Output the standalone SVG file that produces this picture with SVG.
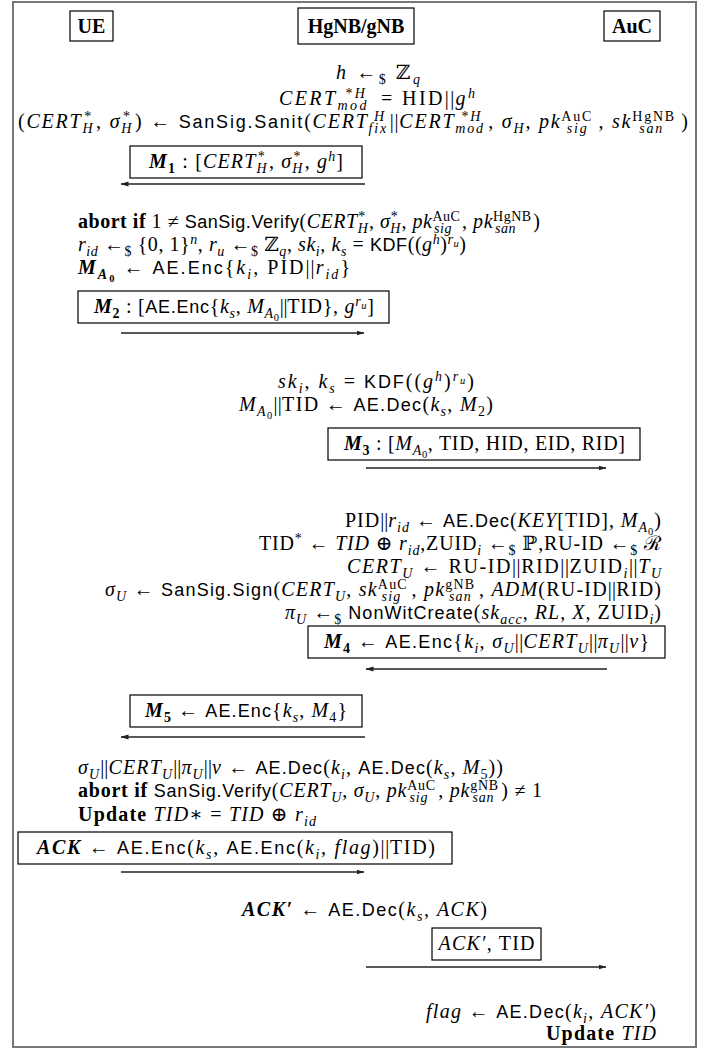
<svg xmlns="http://www.w3.org/2000/svg" width="709" height="1055" viewBox="0 0 709 1055">
<defs>
<style>
text{font-family:"Liberation Serif","DejaVu Serif",serif;font-size:20px;fill:#000}
.i{font-style:italic}
.n{font-style:normal}
.b{font-weight:bold}
.f{font-family:"Liberation Sans","DejaVu Sans",sans-serif;font-size:18px;font-style:normal;font-weight:normal}
.s{font-size:14px}
.ss{font-size:10.5px}
.d{baseline-shift:-4.5px}
.u{baseline-shift:7.5px}
.dd{baseline-shift:-3px}
.pp{font-style:normal;font-weight:normal;letter-spacing:-1px}
.hd{font-size:20px;font-weight:bold;text-anchor:middle}
.m{text-anchor:middle}
.e{text-anchor:end}
.bx{fill:none;stroke:#000;stroke-width:1.2}
.ar{fill:none;stroke:#222;stroke-width:1.3;marker-end:url(#ah)}
</style>
<marker id="ah" viewBox="0 0 8 6" refX="7.5" refY="3" markerWidth="8" markerHeight="6" markerUnits="userSpaceOnUse" orient="auto"><path d="M0,0.5 L8,3 L0,5.5 z" fill="#222"/></marker>
</defs>
<rect x="0" y="0" width="709" height="1055" fill="#fff"/>
<rect id="frame" x="13" y="2" width="683" height="1045" fill="none" stroke="#777" stroke-width="2"/>

<g id="ue"><rect class="bx" x="70" y="11" width="43" height="30"/><text class="hd" x="91.5" y="33">UE</text></g>
<g id="hgnb"><rect class="bx" x="298" y="8" width="116" height="36"/><text class="hd" x="356" y="33">HgNB/gNB</text></g>
<g id="auc"><rect class="bx" x="604" y="11" width="56" height="30"/><text class="hd" x="632" y="33">AuC</text></g>

<g id="step-hgnb-sanit">
<text class="m" x="378" y="79" textLength="84"><tspan class="i">h</tspan> ←<tspan class="s d">$</tspan> ℤ<tspan class="s i d">q</tspan></text>
<text class="m" x="377" y="105" textLength="196"><tspan class="i">CERT</tspan><tspan class="s i d">mod</tspan><tspan class="s u" dx="-23.3">*<tspan class="i">H</tspan></tspan><tspan dx="6.2"> = HID</tspan><tspan class="pp">||</tspan><tspan class="i">g</tspan><tspan class="s i u">h</tspan></text>
<text x="18" y="128" textLength="670">(<tspan class="i">CERT</tspan><tspan class="s i d">H</tspan><tspan class="s u" dx="-10.1">*</tspan><tspan dx="3.1">, </tspan><tspan class="i">σ</tspan><tspan class="s i d">H</tspan><tspan class="s u" dx="-10.1">*</tspan><tspan dx="3.1">) ← </tspan><tspan class="f">SanSig.Sanit</tspan>(<tspan class="i">CERT</tspan><tspan class="s i d">fix</tspan><tspan class="s i u" dx="-14">H</tspan><tspan class="pp" dx="3.9">||</tspan><tspan class="i">CERT</tspan><tspan class="s i d">mod</tspan><tspan class="s u" dx="-23.3">*<tspan class="i">H</tspan></tspan><tspan dx="6.2">, </tspan><tspan class="i">σ</tspan><tspan class="s i d">H</tspan>, <tspan class="i">pk</tspan><tspan class="s u">AuC</tspan><tspan class="s i d" dx="-26.4">sig</tspan><tspan dx="10.1">, </tspan><tspan class="i">sk</tspan><tspan class="s u">HgNB</tspan><tspan class="s i d" dx="-36.6">san</tspan><tspan dx="17.2">)</tspan></text>
</g>

<g id="msg-m1">
<rect class="bx" x="130" y="146" width="232" height="32"/>
<text class="m" x="246" y="168" textLength="194"><tspan class="b i">M</tspan><tspan class="s b d">1</tspan> : [<tspan class="i">CERT</tspan><tspan class="s i d">H</tspan><tspan class="s u" dx="-10.1">*</tspan><tspan dx="3.1">, </tspan><tspan class="i">σ</tspan><tspan class="s i d">H</tspan><tspan class="s u" dx="-10.1">*</tspan><tspan dx="3.1">, </tspan><tspan class="i">g</tspan><tspan class="s i u">h</tspan>]</text>
</g>

<g id="step-ue-verify">
<text x="78" y="228" textLength="462"><tspan class="b">abort if</tspan> 1 ≠ <tspan class="f">SanSig.Verify</tspan>(<tspan class="i">CERT</tspan><tspan class="s i d">H</tspan><tspan class="s u" dx="-10.1">*</tspan><tspan dx="3.1">, </tspan><tspan class="i">σ</tspan><tspan class="s i d">H</tspan><tspan class="s u" dx="-10.1">*</tspan><tspan dx="3.1">, </tspan><tspan class="i">pk</tspan><tspan class="s u">AuC</tspan><tspan class="s i d" dx="-26.4">sig</tspan><tspan dx="10.1">, </tspan><tspan class="i">pk</tspan><tspan class="s u">HgNB</tspan><tspan class="s i d" dx="-36.6">san</tspan><tspan dx="17.2">)</tspan></text>
<text x="78" y="251" textLength="388"><tspan class="i">r</tspan><tspan class="s i d">id</tspan> ←<tspan class="s d">$</tspan> {0, 1}<tspan class="s i u">n</tspan>, <tspan class="i">r</tspan><tspan class="s i d">u</tspan> ←<tspan class="s d">$</tspan> ℤ<tspan class="s i d">q</tspan>, <tspan class="i">sk</tspan><tspan class="s i d">i</tspan>, <tspan class="i">k</tspan><tspan class="s i d">s</tspan> = <tspan class="f">KDF</tspan>((<tspan class="i">g</tspan><tspan class="s i u">h</tspan>)<tspan class="s i u">r<tspan class="ss dd">u</tspan></tspan>)</text>
<text x="78" y="274" textLength="272"><tspan class="b i">M</tspan><tspan class="s b i d">A<tspan class="ss dd n">0</tspan></tspan> ← <tspan class="f">AE.Enc</tspan>{<tspan class="i">k</tspan><tspan class="s i d">i</tspan>, PID<tspan class="pp">||</tspan><tspan class="i">r</tspan><tspan class="s i d">id</tspan>}</text>
</g>

<g id="msg-m2">
<rect class="bx" x="78" y="291" width="311" height="32"/>
<text x="94" y="313" textLength="280"><tspan class="b i">M</tspan><tspan class="s b d">2</tspan> : [<tspan class="f">AE.Enc</tspan>{<tspan class="i">k</tspan><tspan class="s i d">s</tspan>, <tspan class="i">M</tspan><tspan class="s i d">A<tspan class="ss dd n">0</tspan></tspan><tspan class="pp">||</tspan>TID}, <tspan class="i">g</tspan><tspan class="s i u">r<tspan class="ss dd">u</tspan></tspan>]</text>
</g>

<g id="step-hgnb-dec">
<text class="m" x="376" y="388" textLength="196"><tspan class="i">sk</tspan><tspan class="s i d">i</tspan>, <tspan class="i">k</tspan><tspan class="s i d">s</tspan> = <tspan class="f">KDF</tspan>((<tspan class="i">g</tspan><tspan class="s i u">h</tspan>)<tspan class="s i u">r<tspan class="ss dd">u</tspan></tspan>)</text>
<text class="m" x="366" y="411" textLength="254"><tspan class="i">M</tspan><tspan class="s i d">A<tspan class="ss dd n">0</tspan></tspan><tspan class="pp">||</tspan>TID ← <tspan class="f">AE.Dec</tspan>(<tspan class="i">k</tspan><tspan class="s i d">s</tspan>, <tspan class="i">M</tspan><tspan class="s d">2</tspan>)</text>
</g>

<g id="msg-m3">
<rect class="bx" x="328" y="428" width="312" height="32"/>
<text x="344" y="450" textLength="281"><tspan class="b i">M</tspan><tspan class="s b d">3</tspan> : [<tspan class="i">M</tspan><tspan class="s i d">A<tspan class="ss dd n">0</tspan></tspan>, TID, HID, EID, RID]</text>
</g>

<g id="step-auc">
<text class="e" x="661" y="527" textLength="316">PID<tspan class="pp">||</tspan><tspan class="i">r</tspan><tspan class="s i d">id</tspan> ← <tspan class="f">AE.Dec</tspan>(<tspan class="i">KEY</tspan>[TID], <tspan class="i">M</tspan><tspan class="s i d">A<tspan class="ss dd n">0</tspan></tspan>)</text>
<text class="e" x="661" y="550" textLength="402">TID<tspan class="s u">*</tspan> ← <tspan class="i">TID</tspan> ⊕ <tspan class="i">r</tspan><tspan class="s i d">id</tspan>,ZUID<tspan class="s i d">i</tspan> ←<tspan class="s d">$</tspan> ℙ,RU-ID ←<tspan class="s d">$</tspan> ℛ</text>
<text class="e" x="661" y="573" textLength="314"><tspan class="i">CERT</tspan><tspan class="s i d">U</tspan> ← RU-ID<tspan class="pp">||</tspan>RID<tspan class="pp">||</tspan>ZUID<tspan class="s i d">i</tspan><tspan class="pp">||</tspan><tspan class="i">T</tspan><tspan class="s i d">U</tspan></text>
<text class="e" x="661" y="596" textLength="556"><tspan class="i">σ</tspan><tspan class="s i d">U</tspan> ← <tspan class="f">SanSig.Sign</tspan>(<tspan class="i">CERT</tspan><tspan class="s i d">U</tspan>, <tspan class="i">sk</tspan><tspan class="s u">AuC</tspan><tspan class="s i d" dx="-26.4">sig</tspan><tspan dx="10.1">, </tspan><tspan class="i">pk</tspan><tspan class="s u">gNB</tspan><tspan class="s i d" dx="-26.4">san</tspan><tspan dx="7">, </tspan><tspan class="i">ADM</tspan>(RU-ID<tspan class="pp">||</tspan>RID)</text>
<text class="e" x="661" y="619" textLength="376"><tspan class="i">π</tspan><tspan class="s i d">U</tspan> ←<tspan class="s d">$</tspan> <tspan class="f">NonWitCreate</tspan>(<tspan class="i">sk</tspan><tspan class="s i d">acc</tspan>, <tspan class="i">RL</tspan>, <tspan class="i">X</tspan>, ZUID<tspan class="s i d">i</tspan>)</text>
</g>

<g id="msg-m4">
<rect class="bx" x="308" y="626" width="357" height="32"/>
<text x="324" y="648" textLength="325"><tspan class="b i">M</tspan><tspan class="s b d">4</tspan> ← <tspan class="f">AE.Enc</tspan>{<tspan class="i">k</tspan><tspan class="s i d">i</tspan>, <tspan class="i">σ</tspan><tspan class="s i d">U</tspan><tspan class="pp">||</tspan><tspan class="i">CERT</tspan><tspan class="s i d">U</tspan><tspan class="pp">||</tspan><tspan class="i">π</tspan><tspan class="s i d">U</tspan><tspan class="pp">||</tspan><tspan class="i">v</tspan>}</text>
</g>

<g id="msg-m5">
<rect class="bx" x="130" y="695" width="232" height="32"/>
<text class="m" x="246" y="717" textLength="202"><tspan class="b i">M</tspan><tspan class="s b d">5</tspan> ← <tspan class="f">AE.Enc</tspan>{<tspan class="i">k</tspan><tspan class="s i d">s</tspan>, <tspan class="i">M</tspan><tspan class="s d">4</tspan>}</text>
</g>

<g id="step-ue-final">
<text x="78" y="774" textLength="425"><tspan class="i">σ</tspan><tspan class="s i d">U</tspan><tspan class="pp">||</tspan><tspan class="i">CERT</tspan><tspan class="s i d">U</tspan><tspan class="pp">||</tspan><tspan class="i">π</tspan><tspan class="s i d">U</tspan><tspan class="pp">||</tspan><tspan class="i">v</tspan> ← <tspan class="f">AE.Dec</tspan>(<tspan class="i">k</tspan><tspan class="s i d">i</tspan>, <tspan class="f">AE.Dec</tspan>(<tspan class="i">k</tspan><tspan class="s i d">s</tspan>, <tspan class="i">M</tspan><tspan class="s d">5</tspan>))</text>
<text x="78" y="797" textLength="464"><tspan class="b">abort if</tspan> <tspan class="f">SanSig.Verify</tspan>(<tspan class="i">CERT</tspan><tspan class="s i d">U</tspan>, <tspan class="i">σ</tspan><tspan class="s i d">U</tspan>, <tspan class="i">pk</tspan><tspan class="s u">AuC</tspan><tspan class="s i d" dx="-26.4">sig</tspan><tspan dx="10.1">, </tspan><tspan class="i">pk</tspan><tspan class="s u">gNB</tspan><tspan class="s i d" dx="-26.4">san</tspan><tspan dx="7">) ≠ 1</tspan></text>
<text x="78" y="821" textLength="238"><tspan class="b">Update</tspan> <tspan class="i">TID</tspan>∗ = <tspan class="i">TID</tspan> ⊕ <tspan class="i">r</tspan><tspan class="s i d">id</tspan></text>
</g>

<g id="msg-ack">
<rect class="bx" x="18" y="832" width="434" height="32"/>
<text class="m" x="236" y="854" textLength="398"><tspan class="b i">ACK</tspan> ← <tspan class="f">AE.Enc</tspan>(<tspan class="i">k</tspan><tspan class="s i d">s</tspan>, <tspan class="f">AE.Enc</tspan>(<tspan class="i">k</tspan><tspan class="s i d">i</tspan>, <tspan class="i">flag</tspan>)<tspan class="pp">||</tspan>TID)</text>
</g>

<g id="step-hgnb-ack">
<text x="242" y="916" textLength="245"><tspan class="b i">ACK′</tspan> ← <tspan class="f">AE.Dec</tspan>(<tspan class="i">k</tspan><tspan class="s i d">s</tspan>, <tspan class="i">ACK</tspan>)</text>
</g>

<g id="msg-ack2">
<rect class="bx" x="432" y="928" width="109" height="32"/>
<text class="m" x="486.5" y="950" textLength="96"><tspan class="i">ACK′</tspan>, TID</text>
</g>

<g id="step-auc-final">
<text class="e" x="656" y="1018" textLength="230"><tspan class="i">flag</tspan> ← <tspan class="f">AE.Dec</tspan>(<tspan class="i">k</tspan><tspan class="s i d">i</tspan>, <tspan class="i">ACK′</tspan>)</text>
<text class="e" x="656" y="1040" textLength="110"><tspan class="b">Update</tspan> <tspan class="i">TID</tspan></text>
</g>

<g id="connectors">
<line class="ar" x1="365" y1="184" x2="121" y2="184"/>
<line class="ar" x1="121" y1="333" x2="364" y2="333"/>
<line class="ar" x1="366" y1="468" x2="606" y2="468"/>
<line class="ar" x1="607" y1="669" x2="366" y2="669"/>
<line class="ar" x1="365" y1="737" x2="121" y2="737"/>
<line class="ar" x1="121" y1="872" x2="364" y2="872"/>
<line class="ar" x1="366" y1="967" x2="606" y2="967"/>
</g>
</svg>
